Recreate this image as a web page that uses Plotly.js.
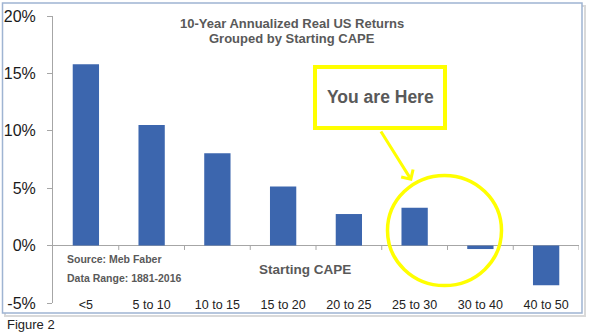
<!DOCTYPE html>
<html>
<head>
<meta charset="utf-8">
<script src="https://cdn.plot.ly/plotly-3.0.1.min.js"></script>
<style>html,body{margin:0;padding:0;background:#fff;}#chart{width:589px;height:333px;}</style>
</head>
<body>
<div id="chart"></div>
<script>
const categories = ["<5", "5 to 10", "10 to 15", "15 to 20", "20 to 25", "25 to 30", "30 to 40", "40 to 50"];
const returnsPct = [15.8, 10.5, 8.05, 5.15, 2.75, 3.3, -0.3, -3.45];
const yTickVals = [-5, 0, 5, 10, 15, 20];
const yTickText = ["-5%", "0%", "5%", "10%", "15%", "20%"];

// pixel helpers for plot area (l=53, r=579, t=16, b=303)
const L = 53, R = 579, T = 16, B = 303;
const px = x => (x - L) / (R - L);
const py = y => (B - y) / (B - T);

const boundaryShapes = [];
for (let i = 0; i < categories.length; i++) {
  boundaryShapes.push({type: 'line', xref: 'x', yref: 'y', x0: i + 0.5, x1: i + 0.5, y0: 0, y1: -0.38,
    line: {color: '#a6a6a6', width: 1}});
}

const trace = {
  type: 'bar',
  x: categories,
  y: returnsPct,
  marker: {color: '#3C66AE'},
  hoverinfo: 'skip'
};

const gray = '#595959';
const layout = {
  width: 589, height: 333,
  margin: {l: L, r: 589 - R, t: T, b: 333 - B},
  paper_bgcolor: '#ffffff', plot_bgcolor: '#ffffff',
  showlegend: false,
  bargap: 0.6,
  font: {family: 'Liberation Sans, Arial, sans-serif', color: '#222'},
  xaxis: {
    type: 'category', showline: false, showgrid: false, zeroline: false,
    ticks: '', tickfont: {size: 12.5, color: '#222'}, ticklabelstandoff: -8,
    range: [-0.5, 7.5]
  },
  yaxis: {
    range: [-5, 20], tickvals: yTickVals, ticktext: yTickText,
    showgrid: false, showline: true, linecolor: '#a6a6a6', linewidth: 1,
    ticks: 'outside', ticklen: 5, tickcolor: '#a6a6a6',
    zeroline: true, zerolinecolor: '#a6a6a6', zerolinewidth: 1,
    tickfont: {size: 16, color: '#1a1a1a'}, ticklabelstandoff: 8
  },
  shapes: [
    // shadow + frame
    {type: 'rect', xref: 'paper', yref: 'paper', x0: px(5), x1: px(585), y0: py(316), y1: py(6), layer: 'below',
      line: {color: '#d9d9d9', width: 2}},
    {type: 'rect', xref: 'paper', yref: 'paper', x0: px(2.5), x1: px(582), y0: py(313), y1: py(3), layer: 'below',
      line: {color: '#9fb4d2', width: 1.5}, fillcolor: '#ffffff'},
    // callout box
    {type: 'rect', xref: 'paper', yref: 'paper', x0: px(315), x1: px(445), y0: py(128), y1: py(67),
      line: {color: '#FFFF00', width: 4}},
    // circle
    {type: 'circle', xref: 'paper', yref: 'paper', x0: px(387.5), x1: px(501.5), y0: py(285.5), y1: py(175.5),
      line: {color: '#FFFF00', width: 3.5}}
  ].concat(boundaryShapes),
  annotations: [
    {xref: 'paper', yref: 'paper', x: px(292), y: py(23), text: '<b>10-Year Annualized Real US Returns</b>',
      showarrow: false, font: {size: 13, color: gray}, xanchor: 'center', yanchor: 'middle'},
    {xref: 'paper', yref: 'paper', x: px(292), y: py(38), text: '<b>Grouped by Starting CAPE</b>',
      showarrow: false, font: {size: 13, color: gray}, xanchor: 'center', yanchor: 'middle'},
    {xref: 'paper', yref: 'paper', x: px(380), y: py(97), text: '<b>You are Here</b>',
      showarrow: false, font: {size: 17.5, color: gray}, xanchor: 'center', yanchor: 'middle'},
    {xref: 'paper', yref: 'paper', x: px(412), y: py(181), ax: -32, ay: -51, text: '',
      showarrow: true, arrowhead: 4, arrowsize: 0.9, arrowwidth: 3, arrowcolor: '#FFFF00'},
    {xref: 'paper', yref: 'paper', x: px(65), y: py(259), text: '<b>Source: Meb Faber</b>',
      showarrow: false, font: {size: 10.5, color: gray}, xanchor: 'left', yanchor: 'middle'},
    {xref: 'paper', yref: 'paper', x: px(65), y: py(278), text: '<b>Data Range: 1881-2016</b>',
      showarrow: false, font: {size: 10.5, color: gray}, xanchor: 'left', yanchor: 'middle'},
    {xref: 'paper', yref: 'paper', x: px(304.5), y: py(269), text: '<b>Starting CAPE</b>',
      showarrow: false, font: {size: 13.5, color: gray}, xanchor: 'center', yanchor: 'middle'},
    {xref: 'paper', yref: 'paper', x: px(5), y: py(324), text: 'Figure 2',
      showarrow: false, font: {size: 13, color: '#222'}, xanchor: 'left', yanchor: 'middle'}
  ]
};

Plotly.newPlot('chart', [trace], layout, {displayModeBar: false, staticPlot: true});
</script>
</body>
</html>
